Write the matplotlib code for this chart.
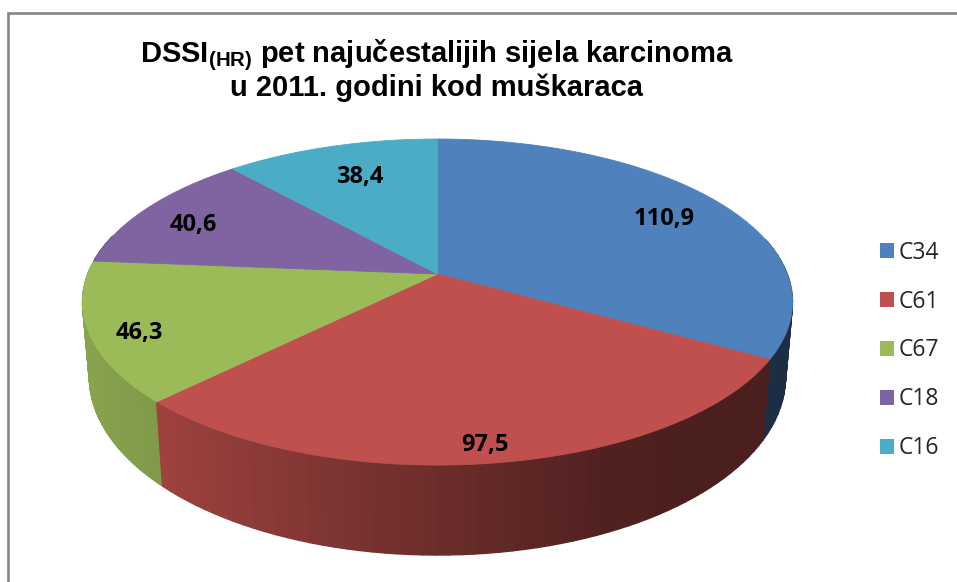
import numpy as np
import matplotlib
matplotlib.use("Agg")
import matplotlib.pyplot as plt
from matplotlib.patches import Patch
from matplotlib.collections import PolyCollection
from matplotlib.colors import to_rgb

categories = ["C34", "C61", "C67", "C18", "C16"]
values = [110.9, 97.5, 46.3, 40.6, 38.4]
value_labels = ["110,9", "97,5", "46,3", "40,6", "38,4"]
colors = ["#4F81BD", "#C0504D", "#9BBB59", "#8064A2", "#4BACC6"]

plt.rcParams["mathtext.fontset"] = "custom"
plt.rcParams["mathtext.bf"] = "Liberation Sans:bold"
plt.rcParams["mathtext.rm"] = "Liberation Sans"

fig = plt.figure(figsize=(9.57, 5.82), dpi=100, facecolor="white")
ax = fig.add_axes([0, 0, 1, 1])
ax.set_xlim(0, 957)
ax.set_ylim(582, 0)
ax.axis("off")

CX = 437.5
TOP = dict(y0=274.0, A=349.7, B=158.2, k=0.172)
BOT = dict(y0=346.6, A=343.0, B=173.0, k=0.170)


def project(theta, p):
    X, Y = np.sin(theta), np.cos(theta)
    w = 1 + p["k"] * Y
    return CX + p["A"] * X / w, p["y0"] - p["B"] * Y / w


def side_shade(i, x):
    if i == 1:
        return np.interp(x, [160, 350, 440, 600, 700], [0.82, 0.64, 0.56, 0.42, 0.39])
    if i == 2:
        return np.interp(x, [90, 160], [0.87, 0.82])
    return 0.36


edges = np.concatenate([[0], np.cumsum(values)]) / np.sum(values) * 2 * np.pi

# side wall, far to near; only the front-facing part can show
quads, quad_cols, depth = [], [], []
for i, col in enumerate(colors):
    th = np.linspace(edges[i], edges[i + 1], 60)
    th = th[np.cos(th) < 0.25]
    if len(th) < 2:
        continue
    xt, yt = project(th, TOP)
    xb, yb = project(th, BOT)
    base = np.array(to_rgb(col))
    for j in range(len(th) - 1):
        quads.append([(xt[j], yt[j]), (xt[j + 1], yt[j + 1]), (xb[j + 1], yb[j + 1]), (xb[j], yb[j])])
        quad_cols.append(base * side_shade(i, (xt[j] + xt[j + 1]) / 2))
        depth.append(np.cos((th[j] + th[j + 1]) / 2))
order = np.argsort(depth)[::-1]
ax.add_collection(PolyCollection([quads[o] for o in order],
                                 facecolors=[quad_cols[o] for o in order],
                                 edgecolors=[quad_cols[o] for o in order],
                                 linewidths=1.0, zorder=2))

# top face
for i, col in enumerate(colors):
    th = np.linspace(edges[i], edges[i + 1], 200)
    x, y = project(th, TOP)
    ax.fill(np.r_[CX, x], np.r_[TOP["y0"], y], facecolor=col, edgecolor=col, lw=0.6, zorder=3)

# value labels
label_pos = [(664, 219.5), (485, 444.5), (139, 333.5), (193, 224.5), (360, 176.5)]
for txt, (lx, ly) in zip(value_labels, label_pos):
    ax.text(lx, ly, txt, family="Open Sans", weight="bold", fontsize=17,
            color="black", ha="center", va="center", zorder=5)

# chart frame
ax.plot([8, 8, 957], [582, 13, 13], color="#868686", lw=1.9, solid_joinstyle="miter", zorder=6)

# title
ax.text(437, 55, r"DSSI$_{\mathbf{(HR)}}$ pet najučestalijih sijela karcinoma",
        family="Liberation Sans", weight="bold", fontsize=21, ha="center", va="center", color="black")
ax.text(437, 88, "u 2011. godini kod muškaraca",
        family="Liberation Sans", weight="bold", fontsize=21, ha="center", va="center", color="black")

# legend
handles = [Patch(facecolor=c, edgecolor="none", label=n) for c, n in zip(colors, categories)]
leg = ax.legend(handles=handles, loc="center left", bbox_to_anchor=(880 / 957, 1 - 350.5 / 582),
                frameon=False, prop=dict(family="Open Sans", size=16.5), labelcolor="#262626",
                handlelength=0.61, handleheight=0.61, handletextpad=0.22,
                labelspacing=1.085, borderpad=0, borderaxespad=0)

fig.savefig("out.png", dpi=100, facecolor="white")
